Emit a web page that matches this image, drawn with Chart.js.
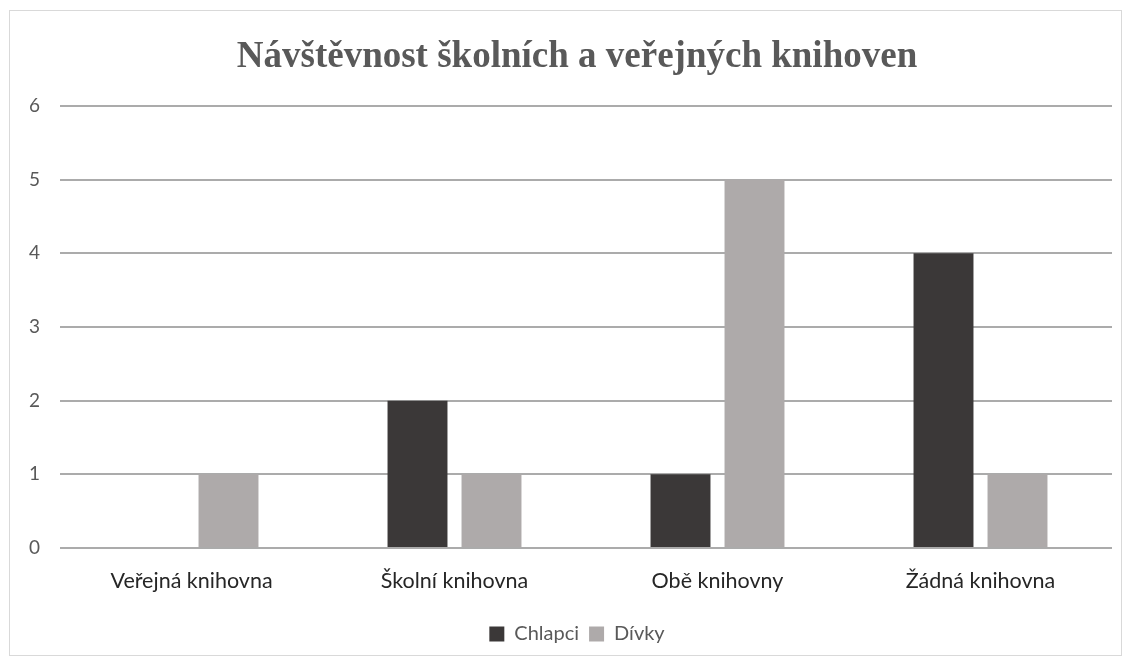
<!DOCTYPE html>
<html>
<head>
<meta charset="utf-8">
<script src="https://cdn.jsdelivr.net/npm/chart.js@4"></script>
<style>
html,body{margin:0;padding:0;background:#fff;}
#wrap{width:1132px;height:666px;position:relative;}
</style>
</head>
<body>
<div id="wrap"><canvas id="c" width="1132" height="666"></canvas></div>
<script>
const categories = ["Veřejná knihovna", "Školní knihovna", "Obě knihovny", "Žádná knihovna"];
const chlapci = [0, 2, 1, 4];
const divky = [1, 1, 5, 1];
const seriesNames = ["Chlapci", "Dívky"];
const titleText = "Návštěvnost školních a veřejných knihoven";
const yMin = 0, yMax = 6, yStep = 1;

const borderPlugin = {
  id: 'outerBorder',
  beforeDraw(chart) {
    const ctx = chart.ctx;
    ctx.save();
    ctx.fillStyle = '#fff';
    ctx.fillRect(0, 0, chart.width, chart.height);
    ctx.strokeStyle = '#d9d9d9';
    ctx.lineWidth = 1;
    ctx.strokeRect(9.5, 10.5, 1112, 645);
    ctx.restore();
  }
};

new Chart(document.getElementById('c'), {
  type: 'bar',
  data: {
    labels: categories,
    datasets: [
      { label: seriesNames[0], data: chlapci, backgroundColor: '#3b3838', borderWidth: 0 },
      { label: seriesNames[1], data: divky, backgroundColor: '#aeaaaa', borderWidth: 0 }
    ]
  },
  options: {
    responsive: false,
    animation: false,
    devicePixelRatio: 1,
    categoryPercentage: 0.5627,
    barPercentage: 0.81,
    layout: { padding: { left: 42, right: 20, top: 0, bottom: 12 } },
    plugins: {
      title: {
        display: true,
        text: titleText,
        color: '#595959',
        font: { family: 'Liberation Serif', size: 37, weight: 'bold', lineHeight: 1.2 },
        padding: { top: 35.2, bottom: 26.4 }
      },
      legend: {
        position: 'bottom',
        labels: {
          color: '#595959',
          font: { family: 'Lato', size: 20 },
          boxWidth: 15, boxHeight: 15,
          padding: 10
        }
      },
      tooltip: { enabled: false }
    },
    scales: {
      x: {
        grid: { display: false, drawTicks: false },
        border: { display: false },
        ticks: { color: '#262626', font: { family: 'Lato', size: 21.5 }, padding: 20 },
        afterFit(scale) { scale.height = 66; }
      },
      y: {
        min: yMin, max: yMax,
        grid: { color: '#ababab', lineWidth: 2, drawTicks: false },
        border: { display: false },
        ticks: { stepSize: yStep, color: '#595959', font: { family: 'Lato', size: 19 }, mirror: true, crossAlign: 'near', padding: -31 },
        afterFit(scale) { scale.width = 18; }
      }
    }
  },
  plugins: [borderPlugin]
});
</script>
</body>
</html>
